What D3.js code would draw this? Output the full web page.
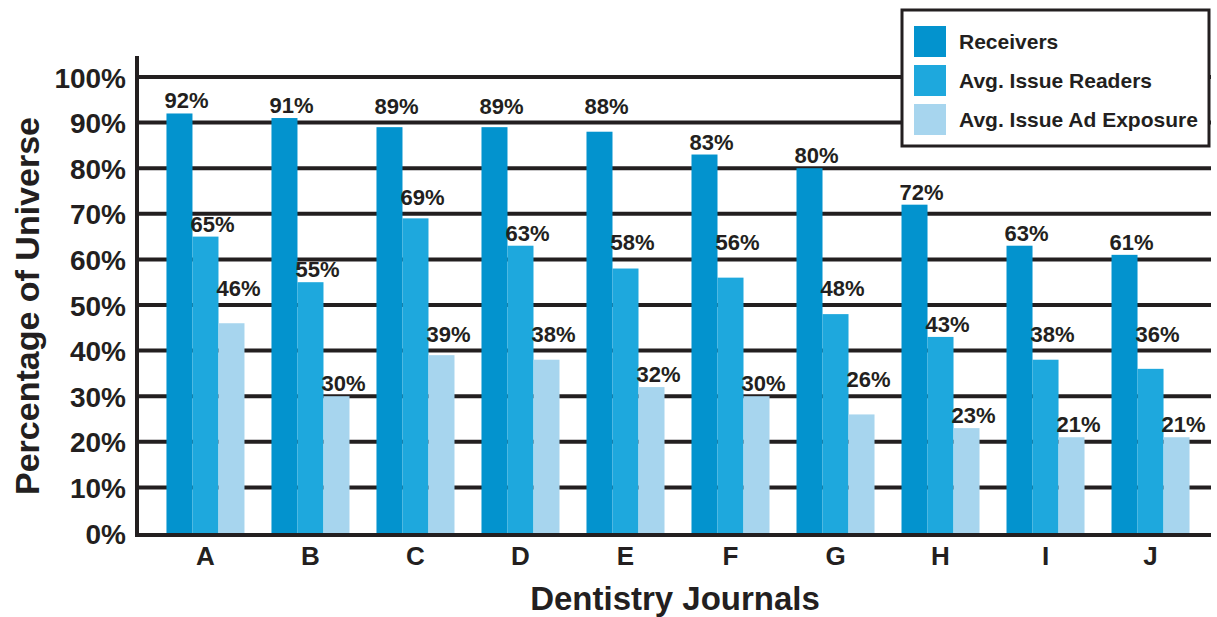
<!DOCTYPE html>
<html>
<head>
<meta charset="utf-8">
<script src="https://cdn.jsdelivr.net/npm/d3@7"></script>
<style>
  html, body { margin: 0; padding: 0; background: #ffffff; }
  svg { display: block; font-family: "Liberation Sans", Arial, Helvetica, sans-serif; font-weight: bold; }
</style>
</head>
<body>
<svg id="chart" width="1217" height="617"></svg>
<script>
// Journals and the three reach measures (percent of universe)
const journals = ["A", "B", "C", "D", "E", "F", "G", "H", "I", "J"];
const seriesNames = ["Receivers", "Avg. Issue Readers", "Avg. Issue Ad Exposure"];
const receivers = [92, 91, 89, 89, 88, 83, 80, 72, 63, 61];
const readers = [65, 55, 69, 63, 58, 56, 48, 43, 38, 36];
const adExposure = [46, 30, 39, 38, 32, 30, 26, 23, 21, 21];
const yTicks = [0, 10, 20, 30, 40, 50, 60, 70, 80, 90, 100];
const seriesColors = ["#0393ce", "#1ea8dd", "#a7d5ee"];

const ink = "#231f20";
const svg = d3.select("#chart");

const plot = { left: 137, right: 1211, top: 77, bottom: 533 };
const gridWidth = 4;

const y = d3.scaleLinear().domain([0, 100]).range([plot.bottom, plot.top]);
const x = d3.scaleBand().domain(journals).range([142, 1214])
  .paddingInner(0.257).paddingOuter(0.233);
const xs = d3.scaleBand().domain(seriesNames).range([0, x.bandwidth()]).padding(0);

const rows = journals.map((j, i) => ({
  journal: j,
  values: [receivers[i], readers[i], adExposure[i]]
}));

const gridValues = yTicks.filter(t => t > 0);

// Horizontal gridlines at every 10%
svg.append("g")
  .selectAll("line")
  .data(gridValues)
  .join("line")
  .attr("x1", plot.left).attr("x2", plot.right)
  .attr("y1", d => y(d)).attr("y2", d => y(d))
  .attr("stroke", ink).attr("stroke-width", gridWidth);

// Bars
const groups = svg.append("g")
  .selectAll("g")
  .data(rows)
  .join("g")
  .attr("transform", d => `translate(${x(d.journal)},0)`);

const cells = d => d.values.map((v, k) => ({ name: seriesNames[k], value: v, k }));

groups.selectAll("rect")
  .data(cells)
  .join("rect")
  .attr("x", d => xs(d.name))
  .attr("width", xs.bandwidth())
  .attr("y", d => y(d.value))
  .attr("height", d => y(0) - y(d.value))
  .attr("fill", d => seriesColors[d.k]);

// Value labels sit just above each bar; a label that would run into a
// gridline is lifted to rest above that gridline instead.
const capHeight = 15;
function labelBaseline(v) {
  let b = y(v) - 5;
  for (const t of gridValues) {
    const g = y(t);
    const top = b - capHeight, bottom = b + 1;
    if (bottom > g - gridWidth / 2 && top < g + gridWidth / 2) {
      b = g - 9;
    }
  }
  return b;
}

groups.selectAll("text")
  .data(cells)
  .join("text")
  .attr("x", d => xs(d.name) - 2)
  .attr("y", d => labelBaseline(d.value))
  .attr("font-size", 22)
  .attr("fill", ink)
  .text(d => d.value + "%");

// Axes
const yAxis = d3.axisLeft(y).tickValues(yTicks).tickSize(0).tickPadding(11)
  .tickFormat(d => d + "%");
const yg = svg.append("g").attr("transform", `translate(${plot.left},0)`).call(yAxis);
yg.select(".domain").remove();
yg.selectAll("text").attr("font-size", 28).attr("fill", ink)
  .attr("font-family", null).attr("dy", "0.36em");

const xAxis = d3.axisBottom(x).tickSize(0).tickPadding(14);
const xg = svg.append("g").attr("transform", `translate(0,${plot.bottom})`).call(xAxis);
xg.select(".domain").remove();
xg.selectAll("text").attr("font-size", 26).attr("fill", ink).attr("font-family", null)
  .attr("dy", null).attr("y", 32);

// Axis lines
svg.append("line")
  .attr("x1", plot.left).attr("x2", plot.left)
  .attr("y1", 56).attr("y2", plot.bottom + 2)
  .attr("stroke", ink).attr("stroke-width", 4);
svg.append("line")
  .attr("x1", plot.left - 2).attr("x2", plot.right)
  .attr("y1", plot.bottom + 2).attr("y2", plot.bottom + 2)
  .attr("stroke", ink).attr("stroke-width", 4);

// Axis titles
svg.append("text")
  .attr("transform", "translate(39,306) rotate(-90)")
  .attr("text-anchor", "middle")
  .attr("font-size", 34).attr("fill", ink)
  .text("Percentage of Universe");
svg.append("text")
  .attr("x", 675).attr("y", 610)
  .attr("text-anchor", "middle")
  .attr("font-size", 33).attr("fill", ink)
  .text("Dentistry Journals");

// Legend
const legend = svg.append("g");
legend.append("rect")
  .attr("x", 902).attr("y", 10).attr("width", 307).attr("height", 136)
  .attr("fill", "#ffffff").attr("stroke", ink).attr("stroke-width", 3);
const items = legend.selectAll("g.item")
  .data(seriesNames)
  .join("g").attr("class", "item")
  .attr("transform", (d, i) => `translate(914,${26 + i * 39})`);
items.append("rect")
  .attr("width", 32).attr("height", 31)
  .attr("fill", (d, i) => seriesColors[i]);
items.append("text")
  .attr("x", 45).attr("y", 23)
  .attr("font-size", 21).attr("fill", ink)
  .text(d => d);
</script>
</body>
</html>
